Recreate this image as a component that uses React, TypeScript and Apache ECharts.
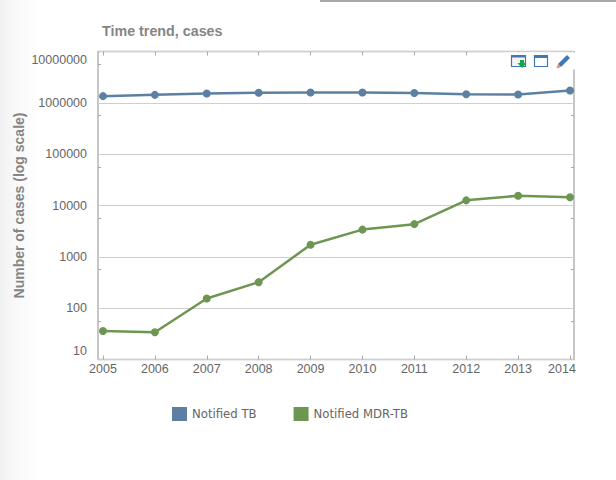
import React, { useEffect, useRef } from "react";
import * as echarts from "echarts";

const years = [2005, 2006, 2007, 2008, 2009, 2010, 2011, 2012, 2013, 2014];
const notifiedTB = [1350000, 1430000, 1520000, 1570000, 1590000, 1590000, 1550000, 1470000, 1450000, 1740000];
const notifiedMDR = [36, 34, 154, 321, 1720, 3390, 4330, 12600, 15500, 14500];
const minorTickExponents = [1.75, 2.75, 3.75, 4.75, 5.75, 6.75];
const TITLE = "Time trend, cases";
const Y_NAME = "Number of cases (log scale)";
const SERIES_NAMES = ["Notified TB", "Notified MDR-TB"];
const BLUE = "#5b80a4";
const GREEN = "#6c9652";
const FONT = "Liberation Sans";

const xMin = 2004.904;
const xMax = 2014.077;

const toPairs = (vals: number[]) => vals.map((v, i) => [years[i], v]);

const smallAxisX = (position: string) => ({
  type: "value",
  position,
  min: xMin,
  max: xMax,
  axisLine: { show: false },
  splitLine: { show: false },
  axisTick: { show: true, inside: true, length: 4, customValues: years, lineStyle: { color: "#aaaaaa", width: 1 } },
  axisLabel: { show: false },
});

const minorY = (position: string) => ({
  type: "value",
  position,
  min: 1,
  max: 7,
  axisLine: { show: false },
  splitLine: { show: false },
  axisTick: { show: true, inside: true, length: 3, customValues: minorTickExponents, lineStyle: { color: "#aaaaaa", width: 1 } },
  axisLabel: { show: false },
});

export default function App() {
  const ref = useRef<HTMLDivElement>(null);
  useEffect(() => {
    document.body.style.margin = "0";
    const chart = echarts.init(ref.current!, null, { renderer: "svg" });
    chart.setOption({
      animation: false,
      backgroundColor: "#ffffff",
      textStyle: { fontFamily: FONT },
      grid: {
        show: true,
        left: 98,
        top: 51.5,
        width: 476,
        height: 308,
        outerBoundsMode: "none",
        backgroundColor: "#ffffff",
        borderColor: "#b4b4b4",
        borderWidth: 1.5,
      },
      title: {
        text: TITLE,
        left: 97,
        top: 19,
        textStyle: { fontFamily: FONT, fontSize: 14.3, fontWeight: "bold", color: "#858585" },
      },
      legend: {
        left: 167,
        top: 402,
        itemWidth: 15,
        itemHeight: 14,
        itemGap: 37,
        icon: "rect",
        data: SERIES_NAMES,
        textStyle: { fontFamily: "DejaVu Sans", fontSize: 11.7, color: "#666666", padding: [1, 0, 0, 0] },
      },
      xAxis: [
        {
          type: "value",
          position: "bottom",
          min: xMin,
          max: xMax,
          axisLine: { show: false },
          splitLine: { show: false },
          axisTick: { show: true, inside: true, length: 4, customValues: years, lineStyle: { color: "#aaaaaa", width: 1 } },
          axisLabel: {
            customValues: years,
            margin: 3,
            fontFamily: FONT,
            fontSize: 12.5,
            color: "#666666",
            formatter: (v: number) => (v === years[years.length - 1] ? `{last|${v}}` : String(v)),
            rich: { last: { padding: [0, 16, 0, 0], fontFamily: FONT, fontSize: 12.5, color: "#666666" } },
          },
        },
        smallAxisX("top"),
      ],
      yAxis: [
        {
          type: "log",
          logBase: 10,
          min: 10,
          max: 10000000,
          position: "left",
          name: Y_NAME,
          nameLocation: "middle",
          nameGap: 72,
          nameMoveOverlap: false,
          nameRotate: 90,
          nameTextStyle: { fontFamily: FONT, fontSize: 14, fontWeight: "bold", color: "#858585" },
          axisLine: { show: false },
          axisTick: { show: false },
          splitLine: { show: true, lineStyle: { color: "#cfcfcf", width: 1.2 } },
          axisLabel: {
            margin: 11,
            fontFamily: FONT,
            fontSize: 12.5,
            color: "#666666",
            formatter: (v: number) => {
              const n = Math.round(v);
              if (n === 10) return `{low|${n}}`;
              if (n === 10000000) return `{high|${n}}`;
              return String(n);
            },
            rich: {
              low: { padding: [0, 0, 17, 0], fontFamily: FONT, fontSize: 12.5, color: "#666666" },
              high: { padding: [17, 0, 0, 0], fontFamily: FONT, fontSize: 12.5, color: "#666666" },
            },
          },
        },
        minorY("left"),
        minorY("right"),
      ],
      series: [
        {
          name: SERIES_NAMES[0],
          type: "line",
          data: toPairs(notifiedTB),
          symbol: "circle",
          symbolSize: 8,
          lineStyle: { color: BLUE, width: 2.5 },
          itemStyle: { color: BLUE },
          z: 5,
        },
        {
          name: SERIES_NAMES[1],
          type: "line",
          data: toPairs(notifiedMDR),
          symbol: "circle",
          symbolSize: 8,
          lineStyle: { color: GREEN, width: 2.5 },
          itemStyle: { color: GREEN },
          z: 5,
        },
      ],
      graphic: [
        {
          type: "rect",
          z: -10,
          silent: true,
          shape: { x: 0, y: 0, width: 40, height: 480 },
          style: {
            fill: new echarts.graphic.LinearGradient(0, 0, 1, 0, [
              { offset: 0, color: "#f1f1f1" },
              { offset: 0.35, color: "#f8f8f8" },
              { offset: 1, color: "#ffffff" },
            ]),
          },
        },
        { type: "rect", silent: true, shape: { x: 320, y: 0, width: 296, height: 2 }, style: { fill: "#a8a8a8" } },
        { type: "rect", silent: true, z: 10, shape: { x: 505, y: 52.5, width: 71, height: 17 }, style: { fill: "#ffffff" } },
        // export icon
        { type: "rect", silent: true, z: 11, shape: { x: 511.5, y: 55.5, width: 14, height: 11 }, style: { fill: "#f4f4f4", stroke: "#3f78b5", lineWidth: 1.2 } },
        { type: "rect", silent: true, z: 11, shape: { x: 511, y: 55, width: 15, height: 2.5 }, style: { fill: "#3f78b5" } },
        { type: "polygon", silent: true, z: 12, shape: { points: [[520, 60], [524, 60], [524, 63], [526.5, 63], [522, 68], [517.5, 63], [520, 63]] }, style: { fill: "#10a84a" } },
        // window icon
        { type: "rect", silent: true, z: 11, shape: { x: 534.5, y: 55.5, width: 13, height: 11 }, style: { fill: "#ffffff", stroke: "#3f78b5", lineWidth: 1.2 } },
        { type: "rect", silent: true, z: 11, shape: { x: 534, y: 55, width: 14, height: 3 }, style: { fill: "#3f78b5" } },
        // pencil icon
        { type: "polygon", silent: true, z: 11, shape: { points: [[558, 64], [567, 55], [570, 58], [561, 67]] }, style: { fill: "#3f78b5" } },
        { type: "polygon", silent: true, z: 12, shape: { points: [[558, 64], [561, 67], [556.5, 68.5]] }, style: { fill: "#e8875f" } },
      ],
    });
    return () => chart.dispose();
  }, []);
  return <div ref={ref} style={{ width: 616, height: 480 }} />;
}
